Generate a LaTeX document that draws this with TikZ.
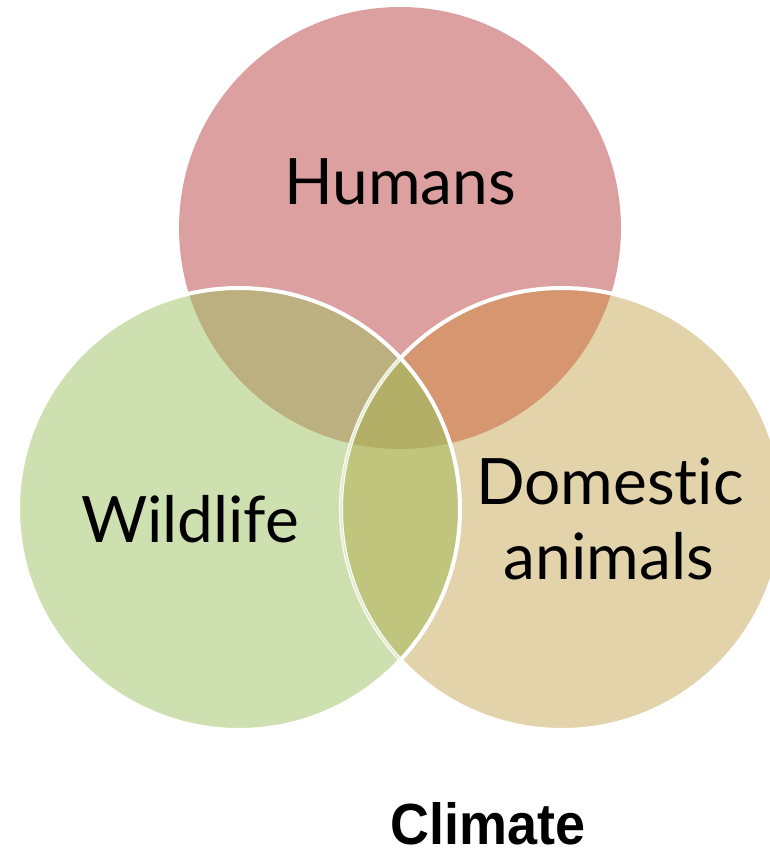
\documentclass[tikz,border=0pt]{standalone}
\usepackage{fontspec}
\usepackage{xcolor}
\newfontfamily\vennfont{Lato}[Ligatures=NoCommon]
\newfontfamily\climatefont{Liberation Sans}[FakeStretch=0.93]
\definecolor{humanfill}{RGB}{220,160,160}
\definecolor{wildfill}{RGB}{207,224,176}
\definecolor{domfill}{RGB}{227,211,170}
\definecolor{hwfill}{RGB}{188,176,128}
\definecolor{hdfill}{RGB}{213,150,112}
\definecolor{wdfill}{RGB}{191,197,125}
\definecolor{allfill}{RGB}{180,175,103}
\definecolor{ringunder}{RGB}{226,237,208}
\newcommand{\rad}{221}

\begin{document}
\begin{tikzpicture}[
  x=1pt,y=1pt,
  ring/.style={draw=white,line width=4pt},
  vennlabel/.style={inner sep=0pt,anchor=base,font=\vennfont\fontsize{64}{75}\selectfont},
  titlelabel/.style={inner sep=0pt,anchor=base,font=\climatefont\bfseries\fontsize{58}{64}\selectfont}
]
\useasboundingbox (0,0) rectangle (770,856);
\clip (0,0) rectangle (770,856);
% circle centres
\coordinate (hc) at (400,628);
\coordinate (wc) at (239,347);
\coordinate (dc) at (562,347);
% plain discs
\fill[humanfill] (hc) circle (\rad);
\fill[domfill] (dc) circle (\rad);
\fill[wildfill] (wc) circle (\rad);
% overlaps
\begin{scope}
  \clip (hc) circle (\rad);
  \fill[hwfill] (wc) circle (\rad);
  \fill[hdfill] (dc) circle (\rad);
\end{scope}
\begin{scope}
  \clip (wc) circle (\rad);
  \fill[wdfill] (dc) circle (\rad);
  \clip (hc) circle (\rad);
  \fill[allfill] (dc) circle (\rad);
\end{scope}
% outlines
\draw[ring] (dc) circle (\rad);
\begin{scope}
  \clip (wc) circle (\rad);
  \draw[ring,draw=ringunder,line width=2pt] (dc) circle (\rad);
\end{scope}
\draw[ring] (wc) circle (\rad);
% labels
\node[vennlabel] (humans) at (400,651) {Humans};
\node[vennlabel] (wildlife) at (190,313) {Wildlife};
\node[vennlabel] (domestic) at (610,351) {Domestic};
\node[vennlabel] (animals) at (609,276) {animals};
\node[titlelabel] (climate) at (488,11) {Climate};
\end{tikzpicture}
\end{document}
